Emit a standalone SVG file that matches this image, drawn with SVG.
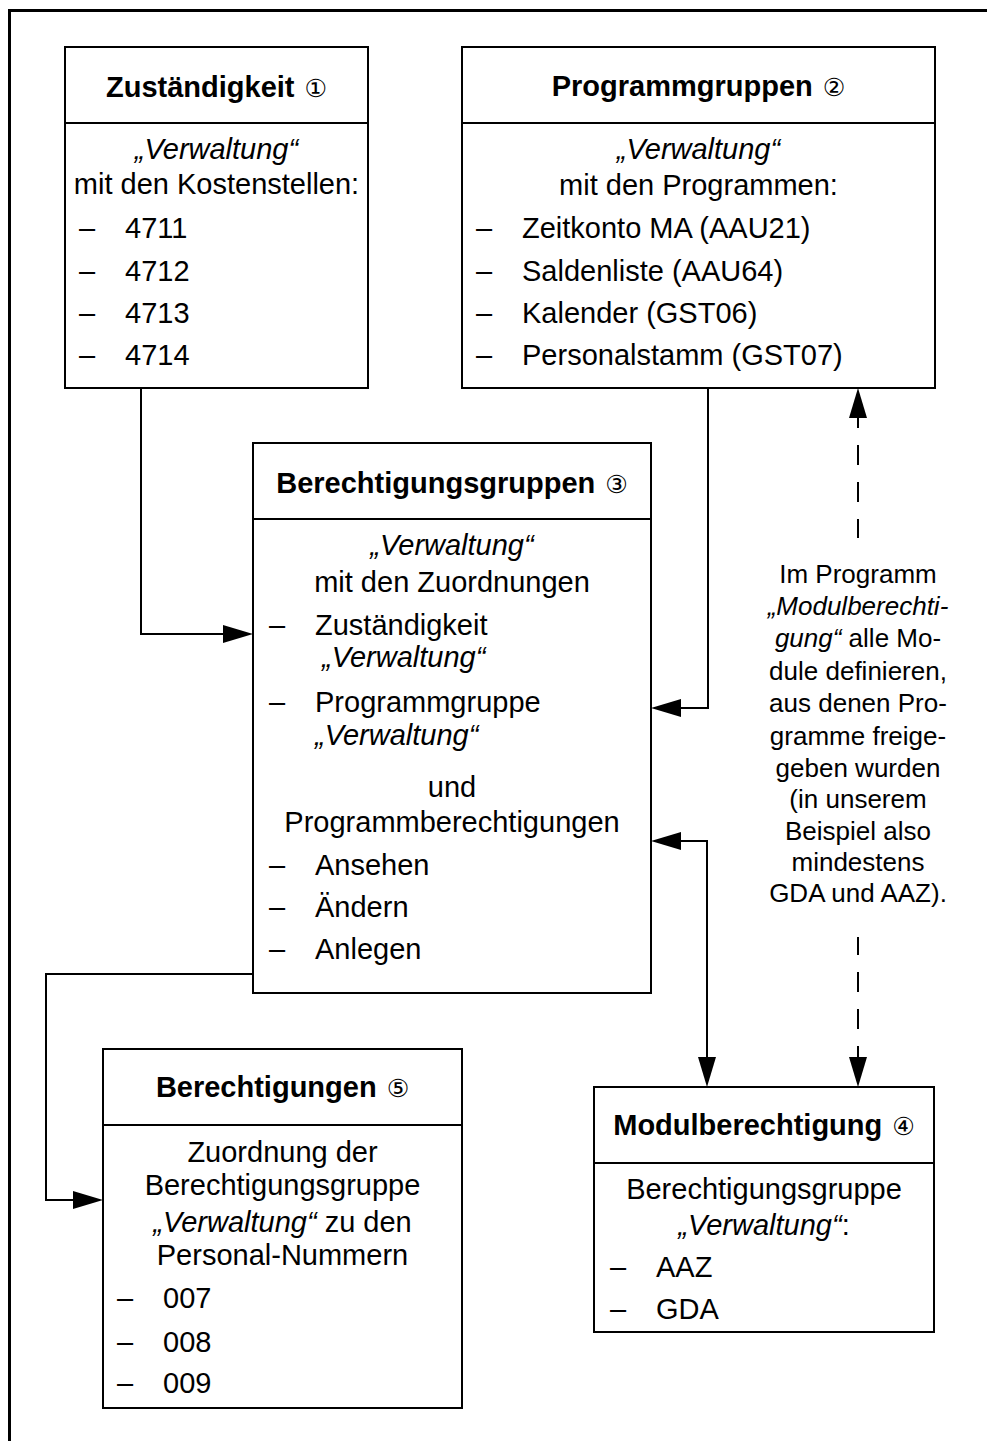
<svg xmlns="http://www.w3.org/2000/svg" width="987" height="1441" viewBox="0 0 987 1441">
<defs>
<style>
text{font-family:"Liberation Sans",Arial,Helvetica,sans-serif;font-size:29px;fill:#000}
.t{font-weight:bold}
.c{text-anchor:middle}
.i{font-style:italic}
.n{font-family:"DejaVu Sans","Noto Sans CJK JP",sans-serif;font-weight:normal;font-size:25px}
.a{font-size:26px;text-anchor:middle}
.box{fill:#fff;stroke:#000;stroke-width:2}
.div{stroke:#000;stroke-width:2}
.con{fill:none;stroke:#000;stroke-width:2}
.dash{stroke-dasharray:20 17}
.frame{stroke:#000;stroke-width:3;fill:none}
</style>
<marker id="ah" markerUnits="userSpaceOnUse" markerWidth="31" markerHeight="18" refX="0" refY="9" orient="auto-start-reverse" viewBox="0 0 31 18">
<path d="M0,0 L30,9 L0,18 z" fill="#000"/>
</marker>
</defs>
<rect width="987" height="1441" fill="#fff"/>
<path class="frame" d="M9.5,1441 V10.5 H987"/>

<g id="connectors">
<path class="con" d="M141,388 V634 H223" marker-end="url(#ah)"/>
<path class="con" d="M708,388 V708 H681" marker-end="url(#ah)"/>
<path class="con" d="M681,841 H707 V1057" marker-start="url(#ah)" marker-end="url(#ah)"/>
<path class="con" d="M253,974 H46 V1200 H73" marker-end="url(#ah)"/>
<path class="con dash" d="M858,418 V538" stroke-dashoffset="10" marker-start="url(#ah)"/>
<path class="con dash" d="M858,937 V1057" stroke-dashoffset="2" marker-end="url(#ah)"/>
</g>

<g id="zustaendigkeit">
<rect class="box" x="65" y="47" width="303" height="341"/>
<line class="div" x1="65" y1="123" x2="368" y2="123"/>
<text class="t c" x="216.5" y="97">Zuständigkeit <tspan class="n" dx="2">①</tspan></text>
<text class="c i" x="216.5" y="159">„Verwaltung“</text>
<text class="c" x="216.5" y="194">mit den Kostenstellen:</text>
<text x="79" y="238">–</text><text x="125" y="238">4711</text>
<text x="79" y="281">–</text><text x="125" y="281">4712</text>
<text x="79" y="323">–</text><text x="125" y="323">4713</text>
<text x="79" y="365">–</text><text x="125" y="365">4714</text>
</g>

<g id="programmgruppen">
<rect class="box" x="462" y="47" width="473" height="341"/>
<line class="div" x1="462" y1="123" x2="935" y2="123"/>
<text class="t c" x="698.5" y="96">Programmgruppen <tspan class="n" dx="2">②</tspan></text>
<text class="c i" x="698.5" y="159">„Verwaltung“</text>
<text class="c" x="698.5" y="195">mit den Programmen:</text>
<text x="476" y="238">–</text><text x="522" y="238">Zeitkonto MA (AAU21)</text>
<text x="476" y="281">–</text><text x="522" y="281">Saldenliste (AAU64)</text>
<text x="476" y="323">–</text><text x="522" y="323">Kalender (GST06)</text>
<text x="476" y="365">–</text><text x="522" y="365">Personalstamm (GST07)</text>
</g>

<g id="berechtigungsgruppen">
<rect class="box" x="253" y="443" width="398" height="550"/>
<line class="div" x1="253" y1="519" x2="651" y2="519"/>
<text class="t c" x="452" y="493">Berechtigungsgruppen <tspan class="n" dx="2">③</tspan></text>
<text class="c i" x="452" y="555">„Verwaltung“</text>
<text class="c" x="452" y="592">mit den Zuordnungen</text>
<text x="269" y="635">–</text><text x="315" y="635">Zuständigkeit</text>
<text class="i" x="322" y="667">„Verwaltung“</text>
<text x="269" y="712">–</text><text x="315" y="712">Programmgruppe</text>
<text class="i" x="315" y="745">„Verwaltung“</text>
<text class="c" x="452" y="797">und</text>
<text class="c" x="452" y="832">Programmberechtigungen</text>
<text x="269" y="875">–</text><text x="315" y="875">Ansehen</text>
<text x="269" y="917">–</text><text x="315" y="917">Ändern</text>
<text x="269" y="959">–</text><text x="315" y="959">Anlegen</text>
</g>

<g id="berechtigungen">
<rect class="box" x="103" y="1049" width="359" height="359"/>
<line class="div" x1="103" y1="1125" x2="462" y2="1125"/>
<text class="t c" x="282.5" y="1097">Berechtigungen <tspan class="n" dx="2">⑤</tspan></text>
<text class="c" x="282.5" y="1162">Zuordnung der</text>
<text class="c" x="282.5" y="1195">Berechtigungsgruppe</text>
<text class="c" x="282.5" y="1232"><tspan class="i">„Verwaltung“</tspan> zu den</text>
<text class="c" x="282.5" y="1265">Personal-Nummern</text>
<text x="117" y="1308">–</text><text x="163" y="1308">007</text>
<text x="117" y="1352">–</text><text x="163" y="1352">008</text>
<text x="117" y="1393">–</text><text x="163" y="1393">009</text>
</g>

<g id="modulberechtigung">
<rect class="box" x="594" y="1087" width="340" height="245"/>
<line class="div" x1="594" y1="1163" x2="934" y2="1163"/>
<text class="t c" x="764" y="1135">Modulberechtigung <tspan class="n" dx="2">④</tspan></text>
<text class="c" x="764" y="1199">Berechtigungsgruppe</text>
<text class="c" x="764" y="1235"><tspan class="i">„Verwaltung“</tspan>:</text>
<text x="610" y="1277">–</text><text x="656" y="1277">AAZ</text>
<text x="610" y="1319">–</text><text x="656" y="1319">GDA</text>
</g>

<g id="annotation">
<text class="a" x="858" y="583">Im Programm</text>
<text class="a i" x="858" y="615">„Modulberechti-</text>
<text class="a" x="858" y="647"><tspan class="i">gung“</tspan> alle Mo-</text>
<text class="a" x="858" y="680">dule definieren,</text>
<text class="a" x="858" y="712">aus denen Pro-</text>
<text class="a" x="858" y="745">gramme freige-</text>
<text class="a" x="858" y="777">geben wurden</text>
<text class="a" x="858" y="808">(in unserem</text>
<text class="a" x="858" y="840">Beispiel also</text>
<text class="a" x="858" y="871">mindestens</text>
<text class="a" x="858" y="902">GDA und AAZ).</text>
</g>
</svg>
